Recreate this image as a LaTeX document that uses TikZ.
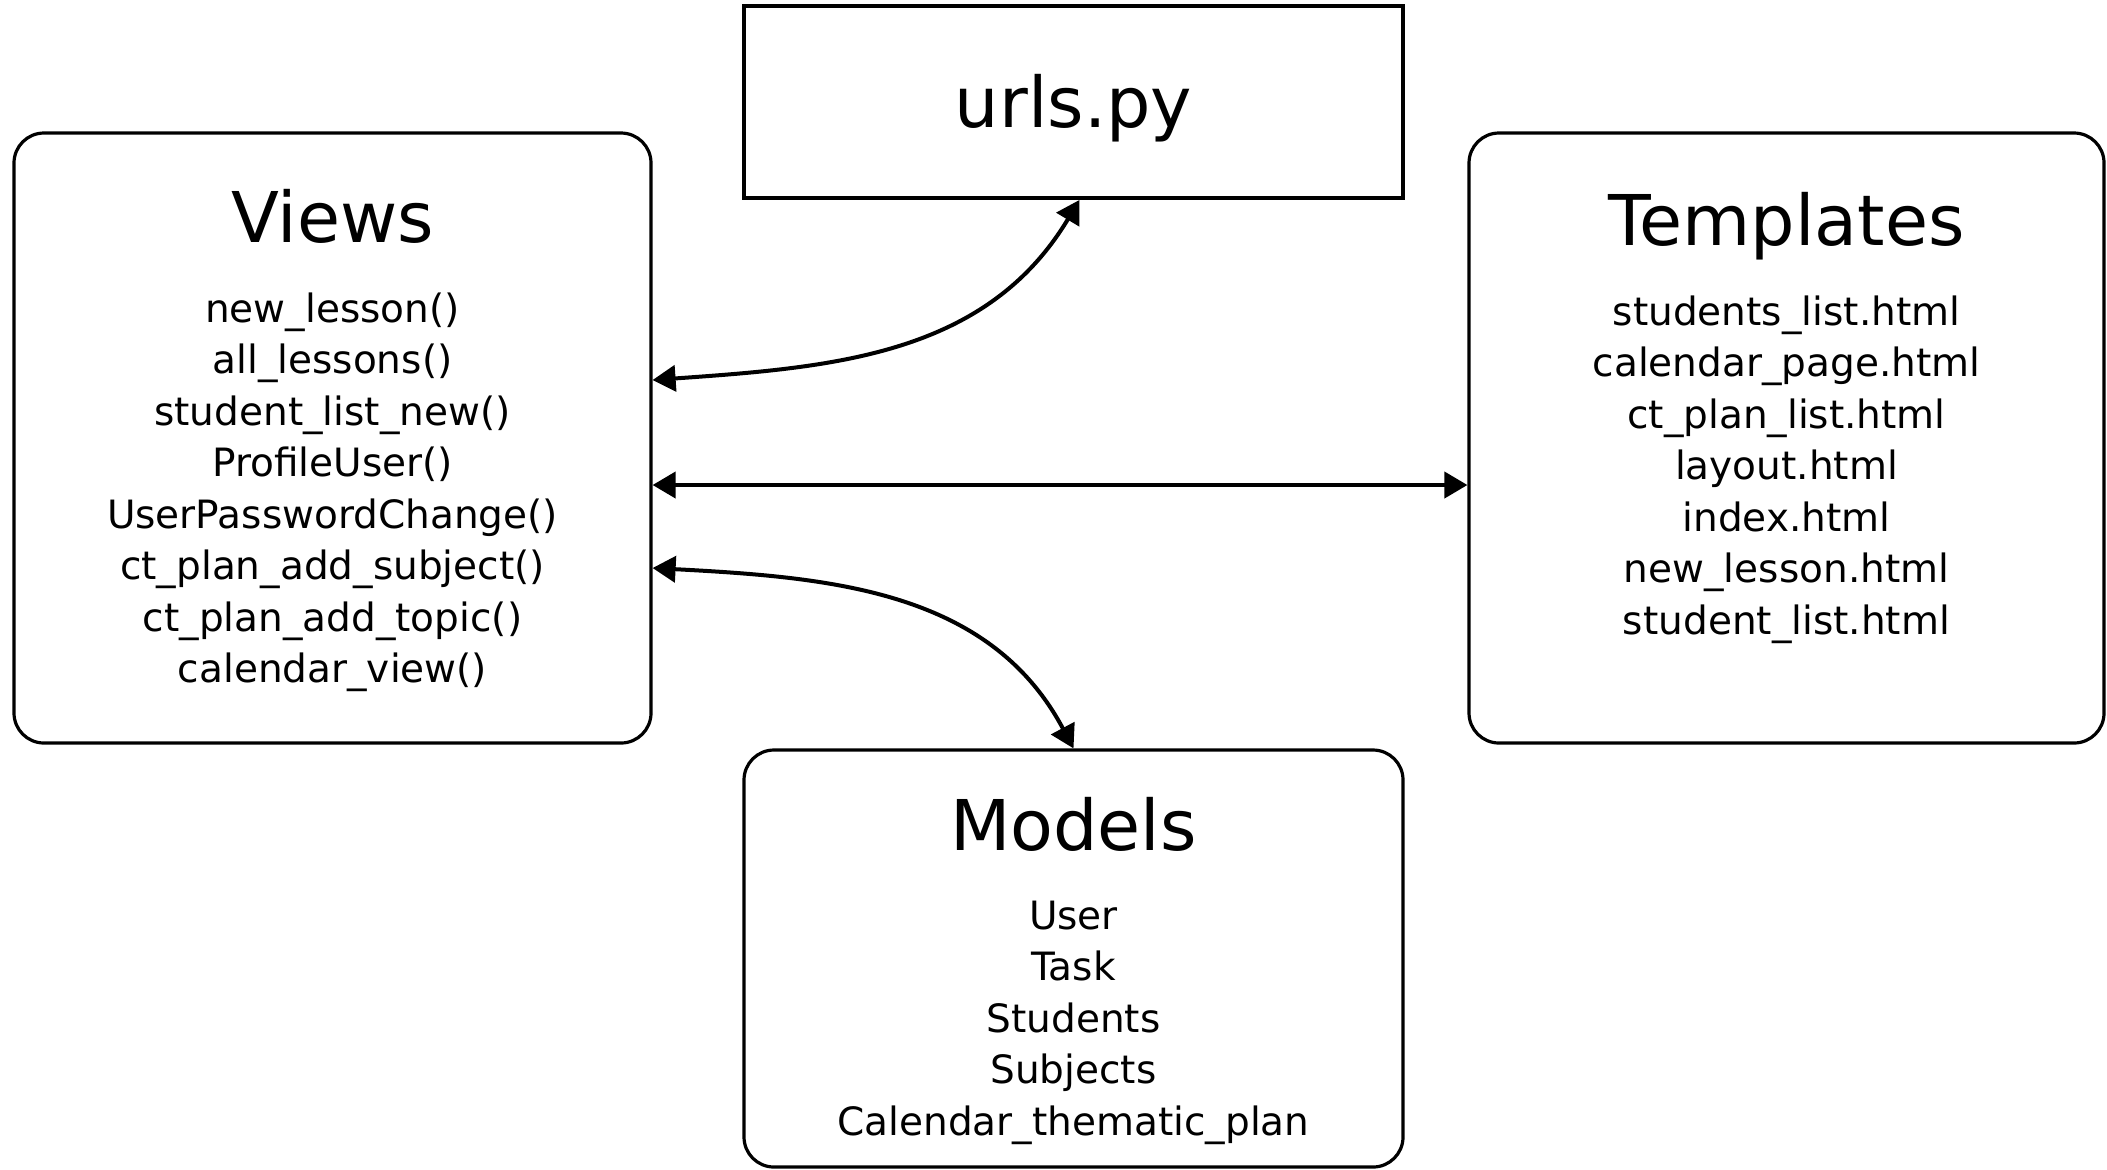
\documentclass[tikz,border=0pt]{standalone}
\usepackage{fontspec}
\setmainfont{DejaVu Sans}
\usetikzlibrary{arrows.meta}

\tikzstyle{block}=[draw, line width=1.6pt, rounded corners=15pt, inner sep=0pt]
\tikzstyle{urlbox}=[draw, line width=1.9pt, inner sep=0pt]
\tikzstyle{title}=[font=\fontsize{35}{42}\selectfont, anchor=base, inner sep=0pt]
\tikzstyle{items}=[font=\fontsize{19.5}{25.75}\selectfont, align=center, anchor=base, inner sep=0pt]
\tikzstyle{link}=[line width=2pt, {Triangle[length=11.5pt,width=13pt]}-{Triangle[length=11.5pt,width=13pt]}]

\begin{document}
\begin{tikzpicture}[x=0.5pt, y=0.5pt]
      \useasboundingbox (0,0) rectangle (2107,-1169);

      \node[urlbox, minimum width=329.5pt, minimum height=96pt] (urls) at (1073.5,-102) {};
      \node[block, minimum width=318.5pt, minimum height=305pt] (views) at (332.5,-438) {};
      \node[block, minimum width=317.5pt, minimum height=305pt] (tmpl) at (1786.5,-438) {};
      \node[block, minimum width=329.5pt, minimum height=208.5pt] (models) at (1073.5,-958.5) {};

      \node[title] (urlsname) at (1073.5,-127) {urls.py};
      \node[title] (viewsname) at (332.5,-242) {Views};
      \node[title] (tmplname) at (1786.5,-245) {Templates};
      \node[title] (modelsname) at (1073.5,-850) {Models};

      % base anchor sits on the last line
      \node[items] (viewslist) at (332.5,-682.5) {new\_lesson()\\all\_lessons()\\student\_list\_new()\\ProfileUser()\\UserPasswordChange()\\ct\_plan\_add\_subject()\\ct\_plan\_add\_topic()\\calendar\_view()};
      \node[items] (tmpllist) at (1786.5,-634) {students\_list.html\\calendar\_page.html\\ct\_plan\_list.html\\layout.html\\index.html\\new\_lesson.html\\student\_list.html};
      \node[items] (modelslist) at (1073.5,-1135) {User\\Task\\Students\\Subjects\\Calendar\_thematic\_plan};

      \draw[link] ([yshift=29pt]views.east) to[out=4, in=-121] ([xshift=3pt]urls.south);
      \draw[link] ([yshift=-23.5pt]views.east) -- ([yshift=-23.5pt]tmpl.west);
      \draw[link] ([yshift=-65pt]views.east) to[out=-3, in=118] (models.north);
    \end{tikzpicture}
\end{document}
